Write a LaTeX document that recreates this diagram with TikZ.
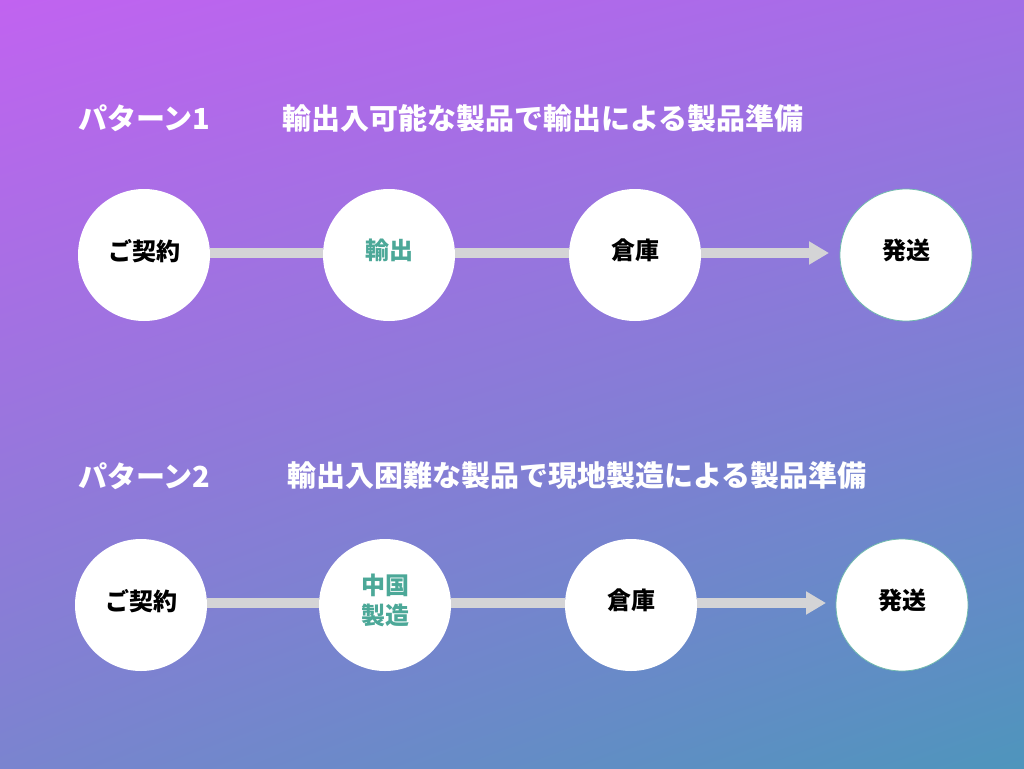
\documentclass[tikz,border=0pt]{standalone}
\usepackage{fontspec}
\setmainfont{Noto Sans CJK JP}
\usetikzlibrary{arrows.meta,shadings}

\definecolor{bgtl}{HTML}{C163F0}
\definecolor{bgtr}{HTML}{A26EE6}
\definecolor{bgbl}{HTML}{7A84CF}
\definecolor{bgbr}{HTML}{4E95BC}
\definecolor{flowgray}{HTML}{D4D4D6}
\definecolor{stepteal}{HTML}{4CA898}

\tikzset{
  stepnode/.style={circle, fill=white, minimum size=132pt, inner sep=0pt,
    font=\fontsize{24}{30}\selectfont\bfseries, align=center, text depth=11pt},
  lastnode/.style={stepnode, draw=stepteal!80, line width=0.8pt},
  flowline/.style={flowgray, line width=10pt},
  flowarrow/.style={flowline, -{Triangle[length=20pt, width=22pt]}},
  titletext/.style={anchor=west, inner sep=0pt, text=white,
    font=\fontsize{29}{32}\selectfont\bfseries}
}

\begin{document}
\begin{tikzpicture}[x=1pt, y=-1pt]
  \shade[upper left=bgtl, upper right=bgtr, lower left=bgbl, lower right=bgbr]
    (0,0) rectangle (1024,768);
  \useasboundingbox (0,0) rectangle (1024,768);

  % pattern 1
  \node[titletext] (pat1) at (78,118) {パターン1};
  \node[titletext] (head1) at (282,118) {輸出入可能な製品で輸出による製品準備};

  \node[stepnode] (contract1) at (144,255) {ご契約};
  \node[stepnode, text=stepteal] (export1) at (389,255) {輸出};
  \node[stepnode] (store1) at (635,255) {倉庫};
  \node[lastnode] (ship1) at (906,255) {発送};
  \coordinate (tip1) at (829,253);

  \draw[flowline] (contract1.east |- tip1) -- (export1.west |- tip1);
  \draw[flowline] (export1.east |- tip1) -- (store1.west |- tip1);
  \draw[flowarrow] (store1.east |- tip1) -- (tip1);

  % pattern 2
  \node[titletext] (pat2) at (78,476) {パターン2};
  \node[titletext] (head2) at (287,476) {輸出入困難な製品で現地製造による製品準備};

  \node[stepnode] (contract2) at (141,605) {ご契約};
  \node[stepnode, text=stepteal] (make2) at (385,605) {中国\\製造};
  \node[stepnode] (store2) at (631,605) {倉庫};
  \node[lastnode] (ship2) at (902,605) {発送};
  \coordinate (tip2) at (826,603);

  \draw[flowline] (contract2.east |- tip2) -- (make2.west |- tip2);
  \draw[flowline] (make2.east |- tip2) -- (store2.west |- tip2);
  \draw[flowarrow] (store2.east |- tip2) -- (tip2);
\end{tikzpicture}
\end{document}
